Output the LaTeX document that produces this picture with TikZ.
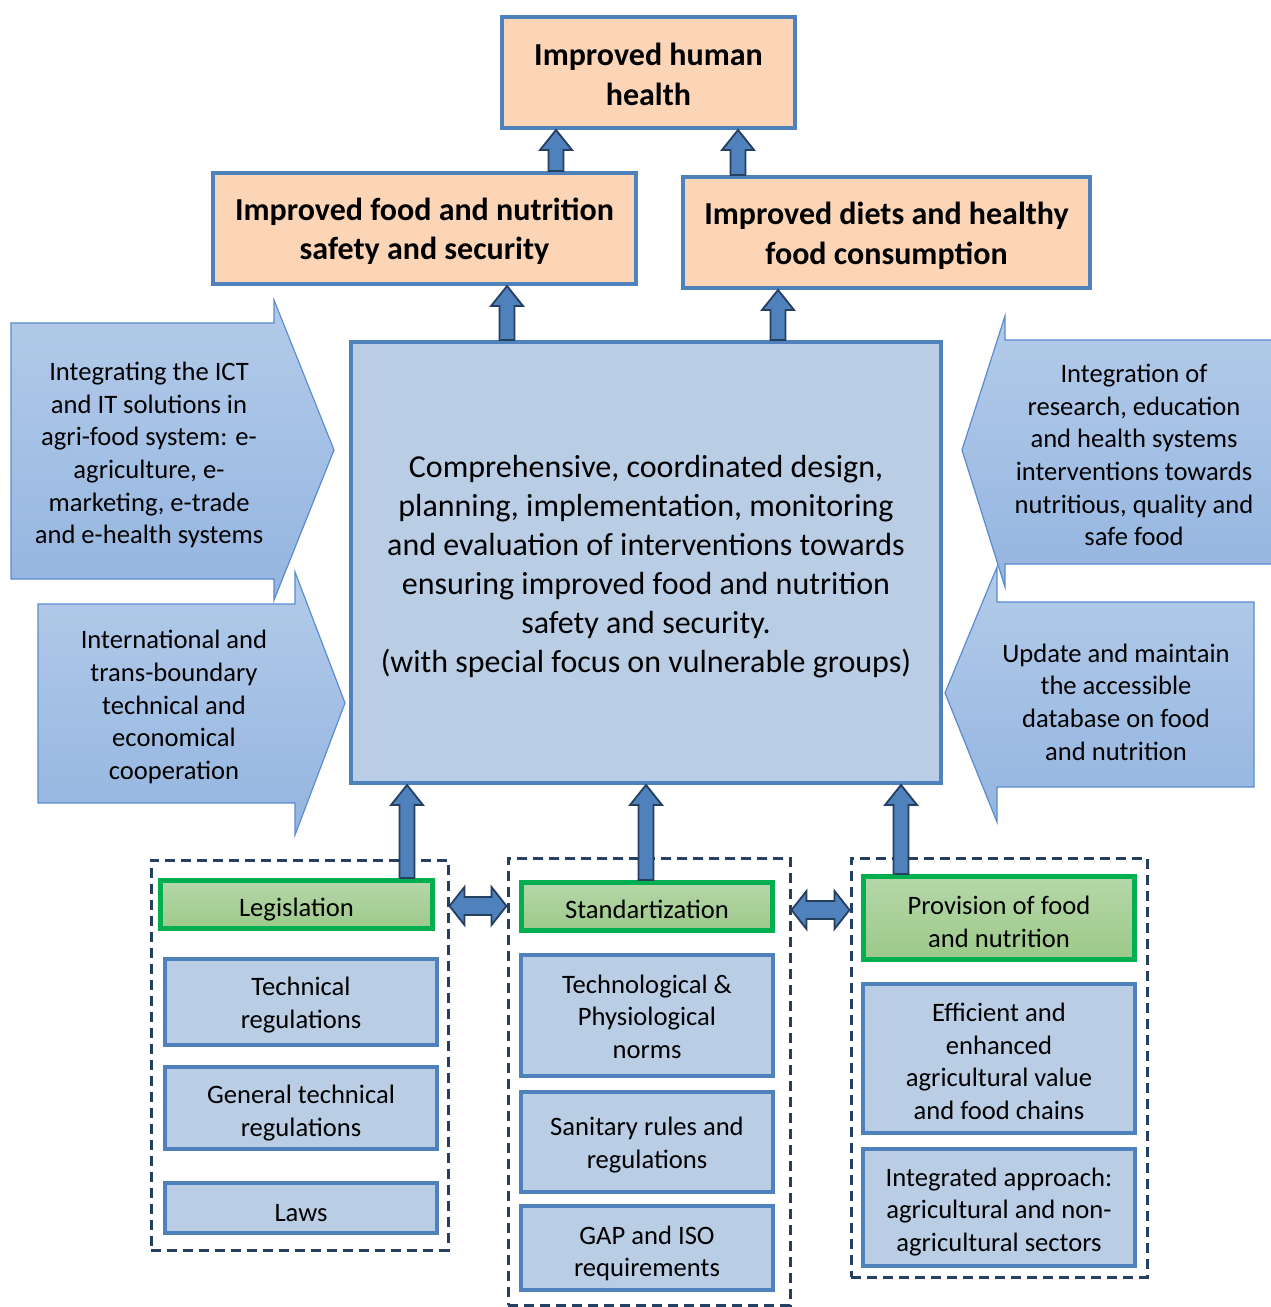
\documentclass[tikz,border=0pt]{standalone}
\usepackage{fontspec}
\setmainfont{Carlito}
\usetikzlibrary{calc}
\definecolor{bbord}{HTML}{4F81BD}
\definecolor{bfill}{HTML}{B9CDE5}
\definecolor{peach}{HTML}{FBD5B5}
\definecolor{gbord}{HTML}{00B050}
\definecolor{gtop}{HTML}{B6D7A8}
\definecolor{gbot}{HTML}{9CC98A}
\definecolor{atop}{HTML}{B3CBE9}
\definecolor{abot}{HTML}{94B5E0}
\definecolor{aedge}{HTML}{5B8BD0}
\definecolor{navy}{HTML}{243F60}
\definecolor{afill}{HTML}{4F81BD}
\tikzset{
  topbox/.style={draw=bbord, line width=4pt, fill=peach, inner sep=0pt},
  toptext/.style={align=center, inner sep=0pt, font=\fontsize{32}{39.5}\selectfont\bfseries},
  bluebox/.style={draw=bbord, line width=4pt, fill=bfill, inner sep=0pt},
  greenbox/.style={draw=gbord, line width=5pt, top color=gtop, bottom color=gbot, inner sep=0pt},
  btext/.style={align=center, inner sep=0pt, font=\fontsize{26.6}{32.5}\selectfont},
  dashbox/.style={draw=navy, line width=3pt, dash pattern=on 10pt off 6pt, inner sep=0pt},
  blk/.style={fill=afill, draw=navy, line width=1.8pt, line join=miter},
  sidearrow/.style={top color=atop, bottom color=abot, draw=aedge, line width=1.2pt},
  sidetext/.style={align=center, font=\fontsize{26.6}{32.6}\selectfont, inner sep=0pt},
}
\newcommand\boxtext[4]{\node[#1] (#2t) at ([yshift=-#3pt]#2.center) {#4};}
\newcommand\blkup[2]{\draw[blk] let \p1=#1, \p2=#2 in
  (\x1-7.5pt,\y1) -- (\x1-7.5pt,\y2-20pt) -- (\x1-16pt,\y2-20pt) -- (\x1,\y2)
  -- (\x1+16pt,\y2-20pt) -- (\x1+7.5pt,\y2-20pt) -- (\x1+7.5pt,\y1) -- cycle;}
\newcommand\blklr[2]{\draw[blk] let \p1=#1, \p2=#2 in
  (\x1,\y1) -- (\x1+15pt,\y1+19pt) -- (\x1+15pt,\y1+9pt) -- (\x2-15pt,\y1+9pt)
  -- (\x2-15pt,\y1+19pt) -- (\x2,\y1) -- (\x2-15pt,\y1-19pt) -- (\x2-15pt,\y1-9pt)
  -- (\x1+15pt,\y1-9pt) -- (\x1+15pt,\y1-19pt) -- cycle;}
\begin{document}
\begin{tikzpicture}[x=1pt,y=-1pt]
\useasboundingbox (0,0) rectangle (1271,1307);
\fill[white] (0,0) rectangle (1271,1307);

% side arrows
\shadedraw[sidearrow] (11,323) -- (274,323) -- (274,300) -- (334,450) -- (274,600) -- (274,579) -- (11,579) -- cycle;
\shadedraw[sidearrow] (38,604) -- (295,604) -- (295,572) -- (345,703) -- (295,835) -- (295,803) -- (38,803) -- cycle;
\shadedraw[sidearrow] (1254,602) -- (997,602) -- (997,567) -- (945,693) -- (997,822) -- (997,787) -- (1254,787) -- cycle;
\shadedraw[sidearrow] (1274,340) -- (1005,340) -- (1005,316) -- (962,450) -- (1005,587) -- (1005,564) -- (1274,564) -- cycle;
\node[sidetext] (s1) at (149,455) {Integrating the ICT\\and IT solutions in\\agri-food system: e-\\agriculture, e-\\marketing, e-trade\\and e-health systems};
\node[sidetext] (s2) at (174,707) {International and\\trans-boundary\\technical and\\economical\\cooperation};
\node[sidetext] (s3) at (1134,455) {Integration of\\research, education\\and health systems\\interventions towards\\nutritious, quality and\\safe food};
\node[sidetext] (s4) at (1116,702) {Update and maintain\\the accessible\\database on food\\and nutrition};

% top boxes
\node[topbox, minimum width=293, minimum height=111] (b1) at (648.5,72.5) {};
\node[topbox, minimum width=423, minimum height=111] (b2) at (424.5,228.5) {};
\node[topbox, minimum width=407, minimum height=111] (b3) at (886.5,232.5) {};
\boxtext{toptext}{b1}{2}{Improved human\\health}
\boxtext{toptext}{b2}{3}{Improved food and nutrition\\safety and security}
\boxtext{toptext}{b3}{3.5}{Improved diets and healthy\\food consumption}

% central box
\node[bluebox, minimum width=590, minimum height=441] (cen) at (646,562.5) {};
\boxtext{btext, font=\fontsize{32}{39}\selectfont}{cen}{4}{Comprehensive, coordinated design,\\planning, implementation, monitoring\\and evaluation of interventions towards\\ensuring improved food and nutrition\\safety and security.\\(with special focus on vulnerable groups)}

% dashed groups
\node[dashbox, minimum width=297, minimum height=390] (dl) at (299.5,1055) {};
\node[dashbox, minimum width=282, minimum height=447] (dm) at (649,1081.5) {};
\node[dashbox, minimum width=296, minimum height=419] (dr) at (999,1067.5) {};

% green heads
\node[greenbox, minimum width=272, minimum height=48] (leg) at (296.5,904.5) {};
\node[greenbox, minimum width=251, minimum height=48] (std) at (647,906.5) {};
\node[greenbox, minimum width=271, minimum height=83] (prov) at (999,918) {};
\boxtext{btext}{leg}{5}{Legislation}
\boxtext{btext}{std}{3}{Standartization}
\boxtext{btext}{prov}{4}{Provision of food\\and nutrition}

% sub boxes
\node[bluebox, minimum width=272, minimum height=86] (tr) at (301,1002) {};
\node[bluebox, minimum width=272, minimum height=82] (gtr) at (301,1108) {};
\node[bluebox, minimum width=272, minimum height=50] (laws) at (301,1208) {};
\node[bluebox, minimum width=252, minimum height=121] (tpn) at (647,1015.5) {};
\node[bluebox, minimum width=252, minimum height=100] (san) at (647,1142) {};
\node[bluebox, minimum width=252, minimum height=84] (gap) at (647,1248) {};
\node[bluebox, minimum width=272, minimum height=149] (eff) at (999,1058.5) {};
\node[bluebox, minimum width=272, minimum height=117] (ia) at (999,1207.5) {};
\boxtext{btext}{tr}{3}{Technical\\regulations}
\boxtext{btext}{gtr}{5}{General technical\\regulations}
\boxtext{btext}{laws}{5}{Laws}
\boxtext{btext}{tpn}{1}{Technological \&\\Physiological\\norms}
\boxtext{btext}{san}{3}{Sanitary rules and\\regulations}
\boxtext{btext}{gap}{5.5}{GAP and ISO\\requirements}
\boxtext{btext}{eff}{3}{Efficient and\\enhanced\\agricultural value\\and food chains}
\boxtext{btext}{ia}{4.5}{Integrated approach:\\agricultural and non-\\agricultural sectors}

% block arrows
\coordinate (x1) at (556,0);
\coordinate (x2) at (738,0);
\coordinate (x3) at (507,0);
\coordinate (x4) at (778,0);
\coordinate (x5) at (407,0);
\coordinate (x6) at (646,0);
\coordinate (x7) at (901,0);
\blkup{(b2.north -| x1)}{(b1.south -| x1)}
\blkup{(b3.north -| x2)}{(b1.south -| x2)}
\blkup{(cen.north -| x3)}{(b2.south -| x3)}
\blkup{(cen.north -| x4)}{(b3.south -| x4)}
\blkup{(leg.north -| x5)}{(cen.south -| x5)}
\blkup{(std.north -| x6)}{(cen.south -| x6)}
\blkup{(prov.north -| x7)}{(cen.south -| x7)}
\coordinate (y1) at (0,906);
\coordinate (y2) at (0,910);
\blklr{(dl.east |- y1)}{(dm.west |- y1)}
\blklr{(dm.east |- y2)}{(dr.west |- y2)}
\end{tikzpicture}
\end{document}
